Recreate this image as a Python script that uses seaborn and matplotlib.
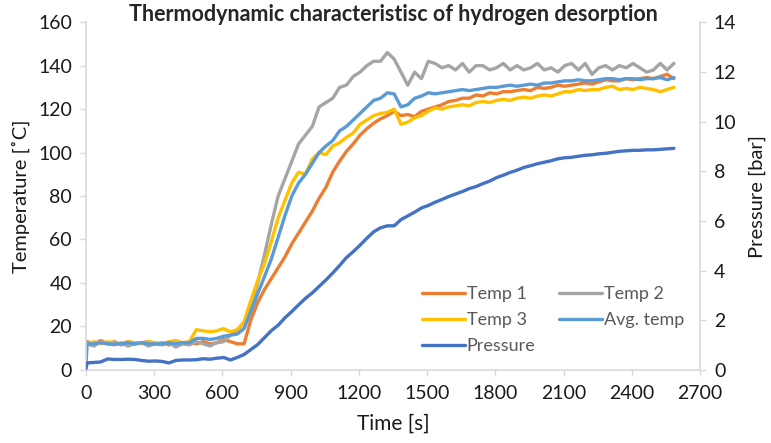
import numpy as np
import seaborn as sns
import matplotlib.pyplot as plt

# sample times [s]: first reading at 0, then every 30 s
time = np.concatenate([[0], np.arange(5, 2596, 30)])

temp1 = [13,
         13, 12, 13.5, 12, 13, 11.5, 13, 12, 12.5, 13, 12, 12.5, 11.5, 13, 12, 12.5, 12, 13, 12, 12.5,
         14, 13, 12, 12, 23, 31, 37, 42, 47, 52, 58, 63, 68, 73, 79, 84, 91, 96, 100.5, 104,
         108, 111, 113.5, 115.5, 117, 119, 117, 117.5, 116.5, 119, 120, 121, 122, 123.5, 124, 125, 125, 126.5, 126, 127.5,
         127, 128, 128, 128.5, 129, 128.5, 130, 129.5, 130, 131, 130.5, 131, 131.5, 132, 131.5, 132.5, 133.5, 133, 133, 134,
         133.5, 134, 134.5, 134, 135, 136, 134]

temp2 = [12,
         12, 11, 13, 12, 11.5, 12.5, 11, 12, 12.5, 11, 12, 11.5, 12.5, 10.5, 12, 11.5, 13, 12, 11, 12.5,
         13, 16, 18, 22, 29, 40, 53, 67, 80, 88, 96, 104, 108, 112, 121, 123, 125, 130, 131, 135,
         137, 140, 142, 142, 146, 143, 137, 131, 137, 134, 142, 141, 139, 140, 138, 141, 137, 140, 140, 138,
         139, 141, 138, 140, 138, 139, 141, 138, 139, 137, 140, 141, 138, 141, 136, 139, 140, 138, 140, 139,
         141, 139, 137, 138, 141, 138, 141]

temp3 = [12,
         12, 13, 12, 13, 12.5, 12, 13, 12.5, 12, 13, 12.5, 12, 13, 13.5, 12.5, 13, 18.5, 18, 17.5, 18,
         19, 17.5, 18.5, 22, 32, 41, 49, 59, 70, 78, 86, 91, 90, 97, 100, 99, 103, 104.5, 107, 109,
         113, 115, 117, 118, 118.5, 120, 113, 114, 116, 117, 119, 120.5, 120, 121, 121.5, 122, 121.5, 123, 123.5, 123,
         124, 124.5, 124, 125, 125.5, 125, 126, 126.5, 126, 127, 128, 128, 129, 128.5, 129, 129, 130, 130.5, 129, 129.5,
         129, 130, 129.5, 129, 128, 129, 130]

avg_temp = [2,
            12, 12, 12.5, 12, 12, 12, 12.5, 12, 12.5, 12, 12, 12, 12.5, 12, 12.5, 12.5, 14.5, 14.5, 14, 14.5,
            15.5, 16, 16.5, 19, 27, 35, 43, 51, 61, 71, 80, 86, 90, 95, 100, 103, 105.5, 110, 112, 115,
            118, 121, 124, 125, 127.5, 127, 121, 122, 125, 126, 127.5, 127, 127.5, 128, 128.5, 129, 128.5, 129, 129.5, 130,
            130, 130.5, 131, 130.5, 131, 131.5, 131, 132, 132, 132.5, 133, 133, 133.5, 133, 133, 133.5, 134, 134, 133.5, 134,
            134, 133.5, 134, 134, 134.5, 133.5, 134.5]

pressure = [0.05,
            0.28, 0.30, 0.32, 0.44, 0.42, 0.42, 0.43, 0.42, 0.38, 0.35, 0.36, 0.34, 0.28, 0.38, 0.40, 0.40, 0.41, 0.45, 0.43, 0.47,
            0.50, 0.40, 0.50, 0.62, 0.82, 1.02, 1.30, 1.58, 1.80, 2.10, 2.35, 2.62, 2.88, 3.10, 3.36, 3.62, 3.90, 4.20, 4.52, 4.76,
            5.02, 5.30, 5.56, 5.72, 5.80, 5.80, 6.05, 6.20, 6.35, 6.52, 6.62, 6.75, 6.86, 6.98, 7.08, 7.18, 7.30, 7.38, 7.50, 7.60,
            7.74, 7.84, 7.95, 8.04, 8.15, 8.22, 8.30, 8.36, 8.42, 8.50, 8.54, 8.56, 8.60, 8.64, 8.66, 8.70, 8.72, 8.76, 8.80, 8.82,
            8.84, 8.84, 8.86, 8.86, 8.88, 8.90, 8.92]

sns.set_style("white")
plt.rcParams['font.family'] = ['Lato', 'DejaVu Sans']

fig, ax = plt.subplots(figsize=(7.71, 4.43), dpi=100)
fig.subplots_adjust(left=0.1115, right=0.908, top=0.95, bottom=0.165)
ax2 = ax.twinx()

lw = 2.4
sns.lineplot(x=time, y=temp1, ax=ax, color='#ED7D31', lw=lw, label='Temp 1', legend=False)
sns.lineplot(x=time, y=temp2, ax=ax, color='#A5A5A5', lw=lw, label='Temp 2', legend=False)
sns.lineplot(x=time, y=temp3, ax=ax, color='#FFC000', lw=lw, label='Temp 3', legend=False)
sns.lineplot(x=time, y=avg_temp, ax=ax, color='#5B9BD5', lw=lw, label='Avg. temp', legend=False)
sns.lineplot(x=time, y=pressure, ax=ax2, color='#4472C4', lw=lw, label='Pressure', legend=False)

ax.set_xlim(0, 2700)
ax.set_ylim(0, 160)
ax2.set_ylim(0, 14)
ax.set_xticks(np.arange(0, 2701, 300))
ax.set_yticks(np.arange(0, 161, 20))
ax2.set_yticks(np.arange(0, 15, 2))

grey = '#D9D9D9'
for a in (ax, ax2):
    for side in ('left', 'right', 'bottom', 'top'):
        a.spines[side].set_visible(False)
ax.spines['left'].set_visible(True)
ax.spines['bottom'].set_visible(True)
ax2.spines['right'].set_visible(True)
for sp in (ax.spines['left'], ax.spines['bottom'], ax2.spines['right']):
    sp.set_color(grey)
    sp.set_linewidth(1.2)

ax.tick_params(axis='both', direction='out', length=4, width=1, color=grey,
               labelsize=14, labelcolor='#1a1a1a', left=True, bottom=True)
ax.tick_params(axis='x', pad=7)
ax.tick_params(axis='y', pad=6)
ax2.tick_params(axis='y', direction='out', length=4, width=1, color=grey,
                labelsize=14, labelcolor='#1a1a1a', right=True, pad=6)

ax.set_xlabel('Time [s]', fontsize=15, color='#1a1a1a', labelpad=8)
ax.set_ylabel('Temperature [˚C]', fontsize=14.5, color='#1a1a1a', labelpad=6)
ax2.set_ylabel('Pressure [bar]', fontsize=14.5, color='#1a1a1a', labelpad=9)
ax.set_title('Thermodynamic characteristisc of hydrogen desorption',
             fontsize=15.5, fontweight='bold', y=1.0, pad=1)

h1, l1 = ax.get_legend_handles_labels()
h2, l2 = ax2.get_legend_handles_labels()
hd = dict(zip(l1 + l2, h1 + h2))
order = ['Temp 1', 'Temp 3', 'Pressure', 'Temp 2', 'Avg. temp']
leg = ax2.legend([hd[k] for k in order], order, ncol=2, frameon=False,
                 loc='lower left', bbox_to_anchor=(0.535, 0.025),
                 fontsize=13, handlelength=2.4, handletextpad=0.1,
                 columnspacing=1.3, labelspacing=0.55, borderaxespad=0)
for t in leg.get_texts():
    t.set_color('#595959')

fig.savefig('out.png', dpi=100)
